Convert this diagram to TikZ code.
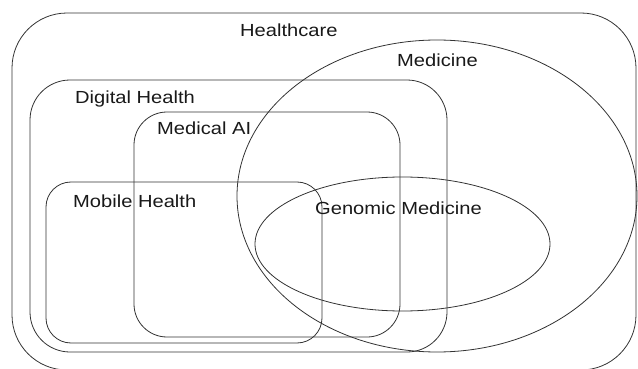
\documentclass[tikz,border=0pt]{standalone}
\usepackage{fontspec}
\setmainfont{Liberation Sans}[FakeStretch=1.15]
\usetikzlibrary{shapes.geometric}
\begin{document}
\begin{tikzpicture}[x=1pt,y=-1pt,
  region/.style={draw=black!80, line width=0.8pt, inner sep=0pt, outer sep=0pt},
  box/.style={region, rectangle},
  oval/.style={region, ellipse},
  lab/.style={anchor=base west, inner sep=0pt, text=black!90, font=\fontsize{17.5}{20}\selectfont}]
\useasboundingbox (0,0) rectangle (638,369);
% regions
\node[box, rounded corners=55pt, minimum width=624pt, minimum height=357pt] (healthcare) at (324,191.5) {};
\node[oval, minimum width=400pt, minimum height=312pt] (medicine) at (437,196) {};
\node[box, rounded corners=40pt, minimum width=417pt, minimum height=272pt] (digital) at (238.5,216) {};
\node[box, rounded corners=33pt, minimum width=266pt, minimum height=225pt] (medai) at (267,224.5) {};
\node[box, rounded corners=25pt, minimum width=276pt, minimum height=161pt] (mobile) at (184,262.5) {};
\node[oval, minimum width=295pt, minimum height=134pt] (genomic) at (402.5,244) {};
% labels
\node[lab] (lhealthcare) at (240,37) {Healthcare};
\node[lab] (lmedicine) at (397,67) {Medicine};
\node[lab] (ldigital) at (75,103.5) {Digital Health};
\node[lab] (lmedai) at (157,134.5) {Medical AI};
\node[lab] (lmobile) at (73,207.5) {Mobile Health};
\node[lab] (lgenomic) at (315,214.5) {Genomic Medicine};
\end{tikzpicture}
\end{document}
